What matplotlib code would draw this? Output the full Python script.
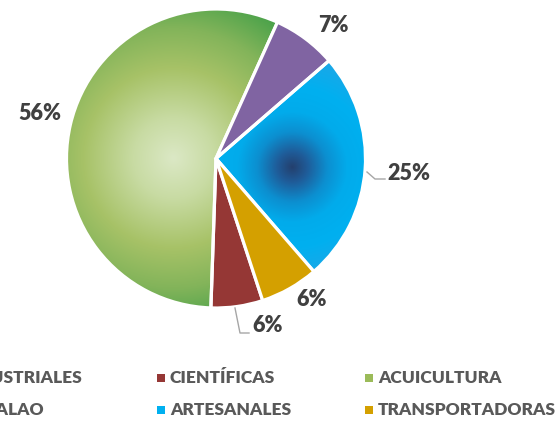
import numpy as np
import matplotlib
matplotlib.use("Agg")
import matplotlib.pyplot as plt
from matplotlib.colors import LinearSegmentedColormap
from matplotlib.patches import Rectangle

categories = ['INDUSTRIALES', 'CIENTÍFICAS', 'ACUICULTURA', 'BALAO', 'ARTESANALES', 'TRANSPORTADORAS']
values = [0.0, 5.6, 56.2, 6.9, 25.0, 6.3]
colors = ['#4F81BD', '#953735', '#9BBB59', '#8064A2', '#00B0F0', '#D4A000']

W, H = 558, 424
fig = plt.figure(figsize=(W / 100, H / 100), dpi=100)
ax = fig.add_axes([0, 0, 1, 1])

FONT = ['Lato', 'DejaVu Sans']

def Y(y):
    return H - y

cx, cy, R = 216, Y(158.5), 149.5
wedges, _ = ax.pie(values, colors=colors, startangle=-71.8, counterclock=False,
                   center=(cx, cy), radius=R, frame=True,
                   wedgeprops=dict(edgecolor='white', linewidth=2.3))

def radial(wedge, gx, gy, stops):
    n = 500
    xs = np.linspace(cx - R, cx + R, n)
    ys = np.linspace(cy - R, cy + R, n)
    XX, YY = np.meshgrid(xs, ys)
    d = np.hypot(XX - gx, YY - Y(gy))
    dmax = stops[-1][0]
    cmap = LinearSegmentedColormap.from_list('g', [(s[0] / dmax, s[1]) for s in stops])
    im = ax.imshow(d, cmap=cmap, vmin=0, vmax=dmax, origin='lower',
                   extent=[cx - R, cx + R, cy - R, cy + R], zorder=0.5, interpolation='bilinear')
    im.set_clip_path(wedge)
    wedge.set_facecolor('none')

radial(wedges[2], 173, 158, [(0, '#dbe8c5'), (40, '#c8dba3'), (90, '#a7c267'),
                             (130, '#83b45a'), (170, '#4aa24a'), (215, '#339538')])
radial(wedges[4], 292, 167, [(0, '#24406e'), (15, '#1f5c99'), (35, '#0c8fd0'),
                             (55, '#02abeb'), (80, '#00b0f0'), (135, '#30a0e0')])
ax.set_xlim(0, W)
ax.set_ylim(0, H)
ax.set_aspect('equal')
ax.axis('off')

# data labels
label_pos = {1: (268, 326), 2: (40, 113), 3: (333, 26), 4: (409, 173), 5: (312, 299)}
for i, (xp, yp) in label_pos.items():
    ax.text(xp, Y(yp), f"{round(values[i]):.0f}%", ha='center', va='center',
            fontsize=15.5, fontweight='heavy', fontstyle='normal', color='#404040', family=FONT)

# leader lines
lc = '#a6a6a6'
ax.plot([367, 375, 385], [Y(172), Y(179), Y(179)], color=lc, lw=1.0)
ax.plot([235, 240, 249], [Y(308), Y(333), Y(333)], color=lc, lw=1.0)

# legend
col_x = [None, 157, 365]
first_col_right = [83, 44]  # first legend column runs past the left edge
row_y = [378, 410]
for k, (name, c) in enumerate(zip(categories, colors)):
    r, col = divmod(k, 3)
    my = row_y[r]
    if col == 0:
        ax.text(first_col_right[r], Y(my), name, ha='right', va='center', fontsize=12.5,
                fontweight='heavy', fontstyle='normal', color='#595959', family=FONT)
        continue
    mx = col_x[col]
    ax.add_patch(Rectangle((mx, Y(my) - 3.75), 7.5, 7.5, facecolor=c, edgecolor='none'))
    ax.text(mx + 13, Y(my), name, ha='left', va='center', fontsize=12.5,
            fontweight='heavy', fontstyle='normal', color='#595959', family=FONT)

fig.savefig('out.png', dpi=100)
